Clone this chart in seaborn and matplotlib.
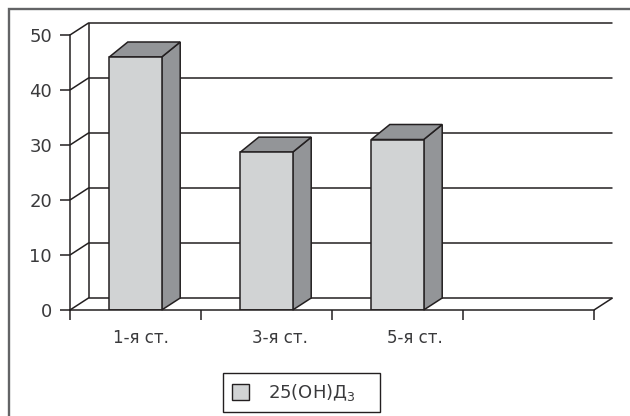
import matplotlib
matplotlib.use("Agg")
import matplotlib.pyplot as plt
from matplotlib.patches import Polygon, Patch, Rectangle
import pandas as pd
import seaborn as sns

categories = ["1-я ст.", "3-я ст.", "5-я ст.", " "]
values = [46, 28.7, 31, None]
y_ticks = [0, 10, 20, 30, 40, 50]
series_name = "25(ОН)Д$_{3}$"

FRONT = "#d1d3d4"
SHADE = "#939598"
INK = "#231f20"
TEXT = "#3a3a3c"
FRAME = "#636466"

W, H = 630, 416
sns.set_theme(style="white")
plt.rcParams["font.family"] = ["DejaVu Sans"]
plt.rcParams["mathtext.fontset"] = "dejavusans"

fig = plt.figure(figsize=(W / 100, H / 100), dpi=100)
# Front plane of the pseudo-3D box
left, right, top, bottom = 70, 594, 35, 310
ax = fig.add_axes([left / W, 1 - bottom / H, (right - left) / W, (bottom - top) / H])

df = pd.DataFrame({"stage": categories, "value": values})
sns.barplot(data=df, x="stage", y="value", order=categories, color=FRONT, saturation=1,
            width=0.4, edgecolor=INK, linewidth=1.1, ax=ax, zorder=5)
ax.set_xlim(-0.5, 3.5)
ax.set_ylim(0, 50)

# Depth offsets expressed in data units; column caps rise a little more than the walls
slot_px = (right - left) / len(categories)
unit_px = (bottom - top) / 50
dx = 18.5 / slot_px
dy = 12 / unit_px
cap_dy = 15 / unit_px
x0, x1 = -0.5, 3.5

line_kw = dict(color=INK, lw=1.1, clip_on=False, solid_capstyle="butt")
for v in y_ticks:
    ax.plot([x0, x0 + dx, x1 + dx], [v, v + dy, v + dy], zorder=1, **line_kw)
ax.plot([x0 + dx, x0 + dx], [0 + dy, 50 + dy], zorder=1, **line_kw)
ax.plot([x1, x1 + dx], [0, dy], zorder=1, **line_kw)

# Top and side faces of every column
for bar in ax.patches:
    xa, w, h = bar.get_x(), bar.get_width(), bar.get_height()
    if not h or h != h:
        continue
    xb = xa + w
    side = [(xb, 0), (xb + dx, dy), (xb + dx, h + cap_dy), (xb, h)]
    cap = [(xa, h), (xa + dx, h + cap_dy), (xb + dx, h + cap_dy), (xb, h)]
    for pts in (side, cap):
        ax.add_patch(Polygon(pts, closed=True, facecolor=SHADE, edgecolor=INK,
                             lw=1.1, clip_on=False, zorder=4))

sns.despine(ax=ax, top=True, right=True)
for name in ("left", "bottom"):
    ax.spines[name].set_color(INK)
    ax.spines[name].set_linewidth(1.1)
    ax.spines[name].set_zorder(6)

ax.set_xlabel("")
ax.set_ylabel("")
ax.set_yticks(y_ticks)
ax.set_xticks([x0 + i for i in range(len(categories) + 1)])
ax.set_xticklabels([])
ax.tick_params(axis="x", direction="out", length=7, width=1.1, color=INK, bottom=True)
ax.tick_params(axis="y", direction="out", length=7.5, width=1.1, color=INK, left=True,
               labelsize=13, labelcolor=TEXT, pad=5.5)

# Category names sit a little to the right of their slots
for i, (name, shift) in enumerate(zip(categories[:3], (0.04, 0.10, 0.135))):
    ax.annotate(name, xy=(i + shift, 0), xytext=(0, -20.5), textcoords="offset points",
                ha="center", va="center", fontsize=12, color=TEXT,
                annotation_clip=False)

# Outer frame, running past the lower and right edges of the canvas
fig.add_artist(Rectangle((9 / W, -1), 2, 2 - 9 / H, transform=fig.transFigure, fill=False,
                         edgecolor=FRAME, lw=1.7))

# Legend box is drawn separately so it can be wider than its entry
fig.add_artist(Rectangle((223 / W, 1 - 412 / H), 157 / W, 39 / H, transform=fig.transFigure,
                         facecolor="white", edgecolor=INK, lw=1.0))
handle = Patch(facecolor=FRONT, edgecolor=INK, lw=1.0)
leg = fig.legend([handle], [series_name], loc="center left",
                 bbox_to_anchor=(223 / W, 1 - 392.5 / H), fontsize=13, frameon=False,
                 borderpad=0.5, handlelength=0.95, handleheight=0.95,
                 handletextpad=1.05, borderaxespad=0)
leg.set_zorder(5)
for t in leg.get_texts():
    t.set_color(TEXT)

fig.savefig("out.png", dpi=100)
